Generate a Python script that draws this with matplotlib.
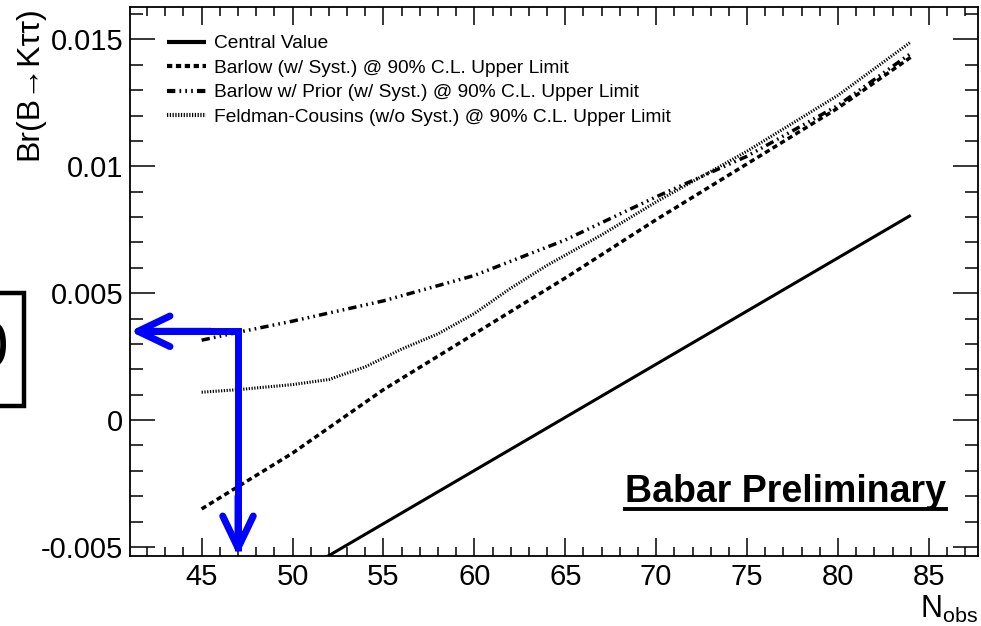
import matplotlib
matplotlib.use("Agg")
import matplotlib.pyplot as plt
from matplotlib.lines import Line2D
from matplotlib.patches import Rectangle
import numpy as np

plt.rcParams['font.family'] = ['Liberation Sans', 'DejaVu Sans']
plt.rcParams['axes.unicode_minus'] = False
plt.rcParams['mathtext.fontset'] = 'custom'
plt.rcParams['mathtext.rm'] = 'Liberation Sans'
plt.rcParams['lines.scale_dashes'] = False

# ---- data ----
central_n = [45, 84]
central_v = [-0.00827, 0.00807]

barlow_n = [45, 50, 55, 60, 65, 70, 75, 80, 84]
barlow_v = [-0.0035, -0.0013, 0.0012, 0.0034, 0.0056, 0.0079, 0.0101, 0.0123, 0.0143]

prior_n = [45, 47, 50, 55, 60, 65, 70, 75, 80, 84]
prior_v = [0.00315, 0.00346, 0.0039, 0.0047, 0.0057, 0.0071, 0.0088, 0.0104, 0.0124, 0.01445]

fc_n = [45, 47, 50, 52, 54, 56, 58, 60, 62, 64, 67, 70, 75, 80, 84]
fc_v = [0.0011, 0.0012, 0.0014, 0.0016, 0.0021, 0.0028, 0.0034, 0.0042, 0.0052, 0.0061,
        0.0073, 0.0086, 0.0106, 0.0128, 0.0149]

labels = ["Central Value",
          "Barlow (w/ Syst.) @ 90% C.L. Upper Limit",
          "Barlow w/ Prior (w/ Syst.) @ 90% C.L. Upper Limit",
          "Feldman-Cousins (w/o Syst.) @ 90% C.L. Upper Limit"]

arrow_n = 47
arrow_v = 0.0035

xlim = (41.06, 87.70)
ylim = (-0.005355, 0.01628)
xticks = [45, 50, 55, 60, 65, 70, 75, 80, 85]
yticks = [-0.005, 0, 0.005, 0.01, 0.015]
ytick_labels = ["-0.005", "0", "0.005", "0.01", "0.015"]

# ---- figure ----
fig = plt.figure(figsize=(9.81, 6.26), dpi=100)
ax = fig.add_axes([130/981, 1-556/626, 848/981, 549/626])

l1, = ax.plot(central_n, central_v, color='black', lw=2.2, solid_capstyle='butt')
l2, = ax.plot(barlow_n, barlow_v, color='black', lw=2.5, linestyle=(0, (3.8, 2.6)))
l3, = ax.plot(prior_n, prior_v, color='black', lw=2.5,
              linestyle=(0, (6, 3, 1.2, 3, 1.2, 3, 1.2, 3)))
l4, = ax.plot(fc_n, fc_v, color='black', lw=2.2, linestyle=(0, (0.9, 1.1)))

ax.set_xlim(*xlim)
ax.set_ylim(*ylim)
ax.set_xticks(xticks)
ax.set_xticklabels([str(t) for t in xticks])
ax.set_yticks(yticks)
ax.set_yticklabels(ytick_labels)
ax.set_xticks(np.arange(42, 88, 1), minor=True)
ax.set_yticks(np.arange(-0.005, 0.0165, 0.001), minor=True)

for s in ax.spines.values():
    s.set_linewidth(1.3)
ax.tick_params(axis='both', which='both', direction='in', top=True, right=True,
               width=1.1, labelsize=21)
ax.tick_params(axis='x', which='major', length=13, pad=5)
ax.tick_params(axis='x', which='minor', length=6.5)
ax.tick_params(axis='y', which='major', length=18, pad=5)
ax.tick_params(axis='y', which='minor', length=9.4)

leg = ax.legend([l1, l2, l3, l4], labels, loc='upper left',
                bbox_to_anchor=(37/848, 1-28/549), bbox_transform=ax.transAxes,
                frameon=False, fontsize=13.8, handlelength=2.05, handletextpad=0.42,
                labelspacing=0.365, borderpad=0, borderaxespad=0)
for h in leg.get_lines():
    h.set_linewidth(3.0)

# y label
fig.text(29/981, 1-6/626, "Br(B\u2192K\u03c4\u03c4)", rotation=90, ha='center', va='top',
         fontsize=23)
# x label
fig.text(978/981, 1-618/626, r"$\mathrm{N}_{\mathrm{obs}}$", ha='right', va='baseline',
         fontsize=22)

# Babar Preliminary
bt = fig.text(625/981, 1-502/626, "Babar Preliminary", ha='left', va='baseline',
              fontsize=27, fontweight='bold')
fig.canvas.draw()
bb = bt.get_window_extent()
fig.add_artist(Line2D([bb.x0/981, bb.x1/981], [1-509/626, 1-509/626],
                      transform=fig.transFigure, color='black', lw=2.8))

# left box with partial glyph (cut off at the edge as in the reference)
fig.add_artist(Rectangle((-20/981, 1-406/626), 43.5/981, 113/626, transform=fig.transFigure,
                         fill=False, edgecolor='black', lw=3.2, clip_on=False))
fig.text(8/981, 1-350/626, "0", ha='right', va='center', fontsize=46, color='black')

# blue arrows
blue = '#0000ff'
ax.plot([xlim[0] + 0.6, arrow_n, arrow_n], [arrow_v, arrow_v, ylim[0] + 0.0002],
        color=blue, lw=5, clip_on=False, solid_joinstyle='miter', solid_capstyle='butt')
ax.annotate("", xy=(0, arrow_v), xycoords=('axes fraction', 'data'),
            xytext=(arrow_n - 1.5, arrow_v), textcoords='data',
            arrowprops=dict(arrowstyle='->,head_length=2.3,head_width=1.1', color=blue,
                            lw=5, shrinkA=0, shrinkB=0, mutation_scale=10,
                            capstyle='round', joinstyle='round'),
            annotation_clip=False)
ax.annotate("", xy=(arrow_n, 0), xycoords=('data', 'axes fraction'),
            xytext=(arrow_n, -0.003), textcoords='data',
            arrowprops=dict(arrowstyle='->,head_length=2.3,head_width=1.1', color=blue,
                            lw=5, shrinkA=0, shrinkB=0, mutation_scale=10,
                            capstyle='round', joinstyle='round'),
            annotation_clip=False)

fig.savefig("out.png", dpi=100)
